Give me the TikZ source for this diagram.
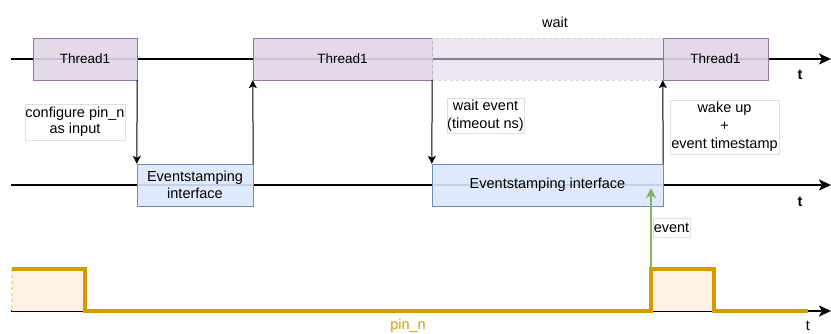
\documentclass[tikz,border=0pt]{standalone}
\usepackage{fontspec}
\setmainfont{Liberation Sans}
\usetikzlibrary{arrows.meta}

\definecolor{thrfill}{HTML}{E1D5E7}
\definecolor{thrdraw}{HTML}{9673A6}
\definecolor{esfill}{HTML}{DAE8FC}
\definecolor{esdraw}{HTML}{6C8EBF}
\definecolor{pinline}{HTML}{D79B00}
\definecolor{pinfill}{HTML}{FFF1E3}
\definecolor{evgreen}{HTML}{82B366}

\tikzset{
  thread/.style={draw=thrdraw, fill=thrfill, fill opacity=0.9, text opacity=1,
    inner sep=0pt, minimum height=42pt, font=\fontsize{13.5}{15}\selectfont},
  waitbox/.style={draw=gray!35, dashed, fill=thrfill, fill opacity=0.6,
    inner sep=0pt, minimum height=42pt},
  esbox/.style={draw=esdraw, fill=esfill, fill opacity=0.9, text opacity=1,
    inner sep=0pt, minimum height=42pt, align=center,
    font=\fontsize{14.5}{17}\selectfont},
  note/.style={draw=gray!25, fill=white, inner sep=0pt, align=center,
    font=\fontsize{14.5}{18}\selectfont},
  axis/.style={line width=1.8pt, -{Stealth[length=12pt,width=11pt,inset=3pt]}},
  call/.style={line width=1pt, -{Stealth[length=8pt,width=8pt,inset=2pt]}},
  tlabel/.style={font=\fontsize{14.5}{17}\selectfont\bfseries},
  plain/.style={font=\fontsize{14.5}{17}\selectfont},
}

\begin{document}
\begin{tikzpicture}[x=1pt,y=-1pt]
  \useasboundingbox (0,0) rectangle (831,334);

  % time axes
  \coordinate (a1s) at (11,59);   \coordinate (a1e) at (831,59);
  \coordinate (a2s) at (11,185);  \coordinate (a2e) at (831,185);
  \coordinate (a3s) at (11,311);  \coordinate (a3e) at (831,311);
  \draw[axis] (a1s) -- (a1e);
  \draw[axis] (a2s) -- (a2e);
  \draw[axis] (a3s) -- (a3e);

  % thread timeline
  \node[thread, minimum width=104pt] (t1a) at (85,59) {Thread1};
  \node[thread, minimum width=179pt] (t1b) at (342.5,59) {Thread1};
  \node[waitbox, minimum width=231pt] (wt) at (547.5,59) {};
  \node[thread, minimum width=105pt] (t1c) at (715.5,59) {Thread1};
  \node[plain] (waitlbl) at (555,22) {wait};

  % eventstamping interface timeline
  \node[esbox, minimum width=116pt] (es1) at (195,185) {Eventstamping\\interface};
  \node[esbox, minimum width=231pt] (es2) at (547.5,185) {Eventstamping interface};

  % calls between thread and interface
  \draw[call] (t1a.south east) -- (es1.north west);
  \draw[call] (es1.north east) -- (t1b.south west);
  \draw[call] (t1b.south east) -- (es2.north west);
  \draw[call] (es2.north east) -- (t1c.south west);

  % annotations
  \node[note, minimum width=100pt, minimum height=36pt,
        font=\fontsize{14.5}{16}\selectfont] (cfg) at (75,122) {configure pin\_n\\as input};
  \node[note, minimum width=77pt, minimum height=35pt] (wev) at (485.5,115.5) {wait event\\(timeout ns)};
  \node[note, minimum width=109pt, minimum height=54pt] (wku) at (724.5,127) {wake up\\+\\event timestamp};

  % axis labels
  \node[tlabel] (tl1) at (800,75) {t};
  \node[tlabel] (tl2) at (800,202) {t};
  \node[plain] (tl3) at (808,326) {t};

  % pin_n signal
  \fill[pinfill] (12,269) rectangle (85,311);
  \fill[pinfill] (651,269) rectangle (714,311);
  \draw[pinline!35, dashed, line width=1.2pt] (12,269) -- (12,311);
  \draw[pinline, line width=3.3pt, line join=miter]
    (12,269) -- (85,269) -- (85,311) -- (651,311) -- (651,269) -- (714,269) -- (714,311) -- (808,311);
  \node[plain, text=pinline] (pinlbl) at (408,326) {pin\_n};

  % event edge
  \coordinate (edge) at (651,269);
  \coordinate (evtip) at (651,188);
  \draw[evgreen, line width=1.5pt, -{Stealth[length=10pt,width=10pt,inset=2.5pt]}] (edge) -- (evtip);
  \node[note, minimum width=37pt, minimum height=19pt] (evlbl) at (671.5,227.5) {event};
\end{tikzpicture}
\end{document}
